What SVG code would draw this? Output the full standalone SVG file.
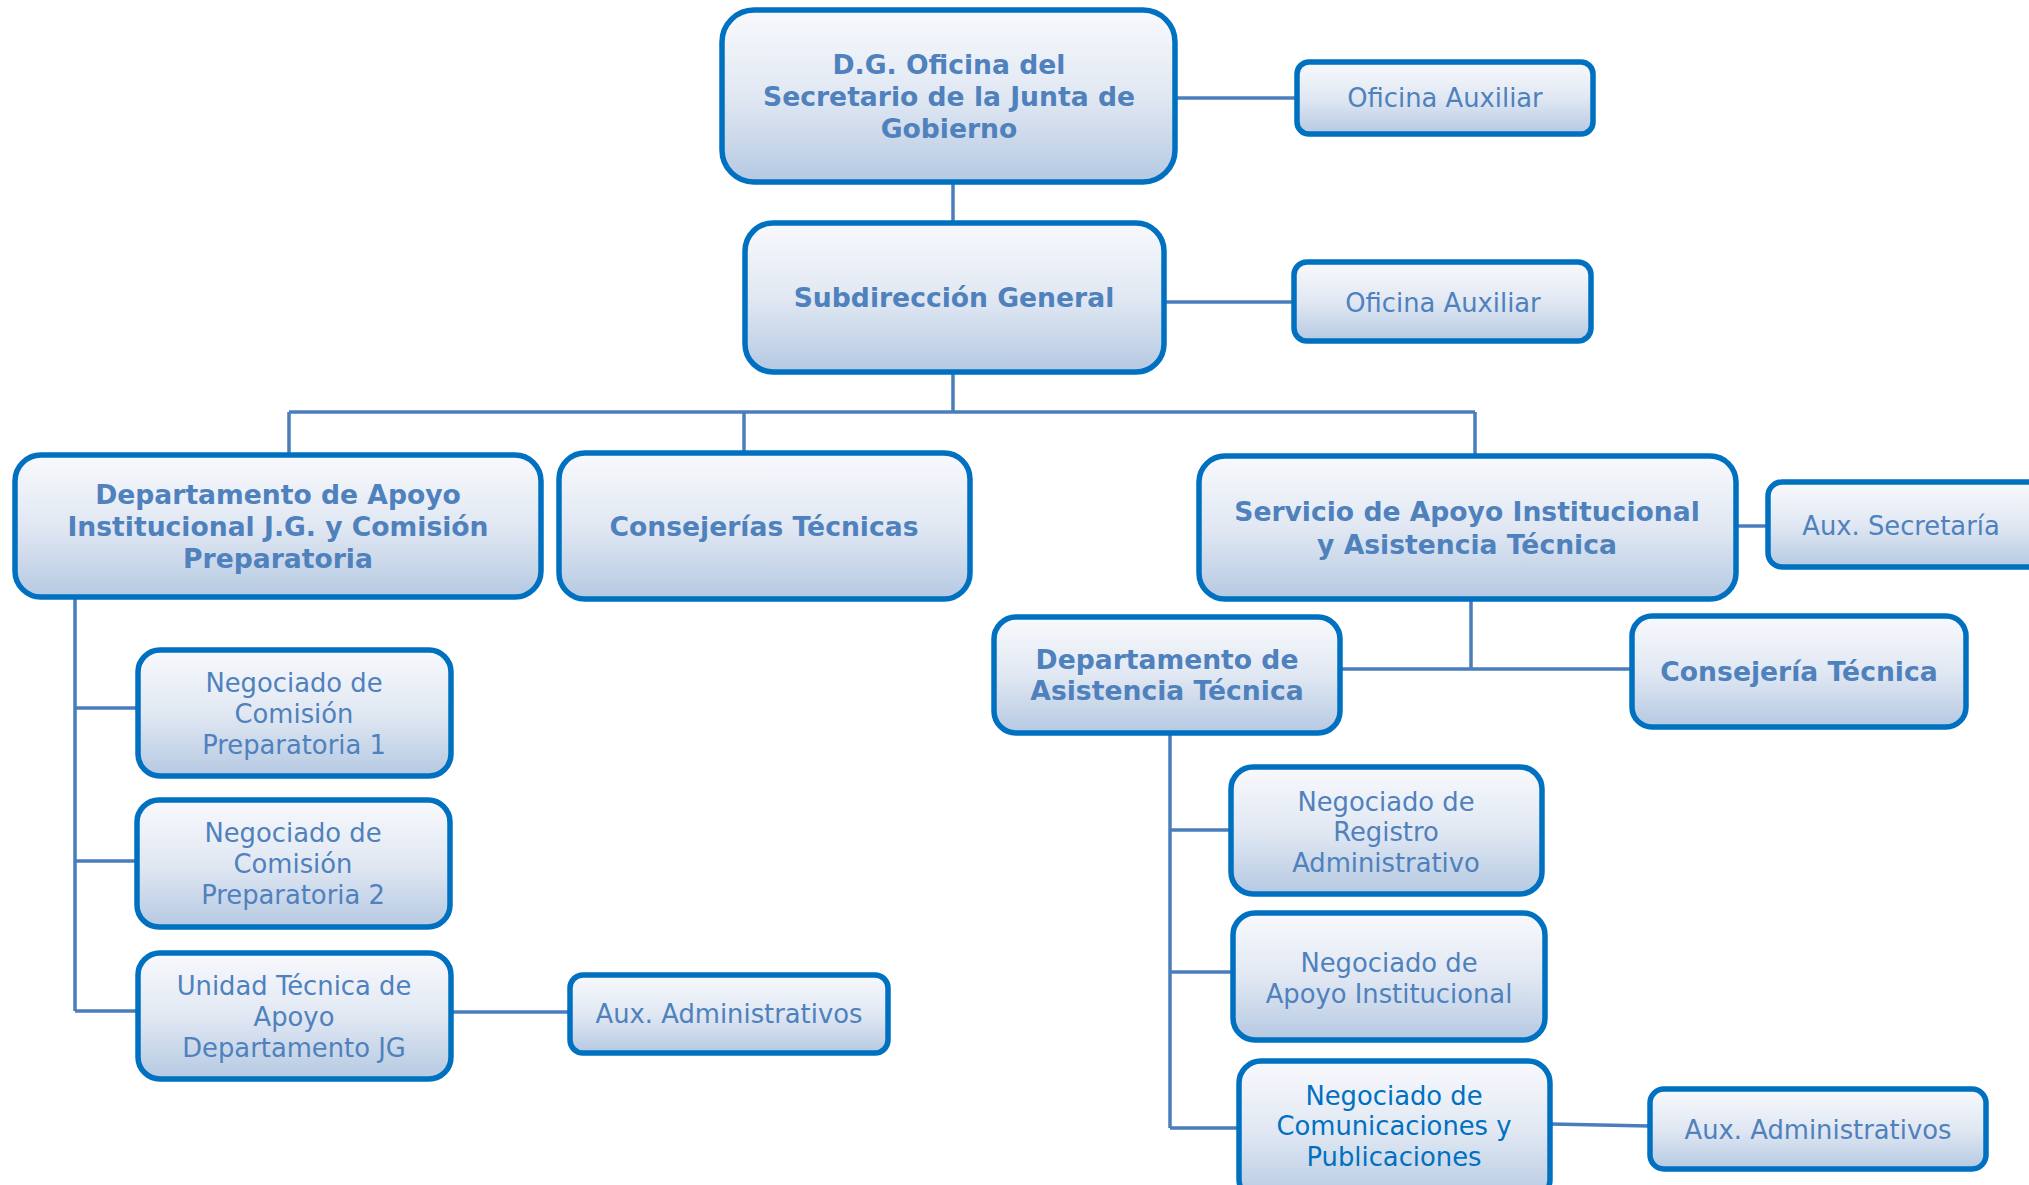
<svg xmlns="http://www.w3.org/2000/svg" width="2029" height="1185" viewBox="0 0 2029 1185">
<defs>
<linearGradient id="g" x1="0" y1="0" x2="0" y2="1">
<stop offset="0" stop-color="#f8f9fc"/>
<stop offset="0.5" stop-color="#e1e8f3"/>
<stop offset="1" stop-color="#b5c9e2"/>
</linearGradient>
<style>
.box{fill:url(#g);stroke:#0070c0;stroke-width:5.5}
.b{font-family:"DejaVu Sans","Liberation Sans",sans-serif;font-weight:bold;font-size:26.6px;fill:#4f81bd;text-anchor:middle}
.n{font-family:"DejaVu Sans","Liberation Sans",sans-serif;font-size:25.8px;fill:#4f81bd;text-anchor:middle}
.nb{fill:#0070c0}
.c{fill:none;stroke:#4a7ebb;stroke-width:3.5}
</style>
</defs>
<rect width="2029" height="1185" fill="#ffffff"/>
<g id="connectors">
<path class="c" d="M1175 98H1297"/>
<path class="c" d="M953 183V222"/>
<path class="c" d="M1164 302H1294"/>
<path class="c" d="M953 373V412M289 412H1475M289 412V453M744 412V451M1475 412V454"/>
<path class="c" d="M75 598V1011M75 708H137M75 861H136M75 1011H137"/>
<path class="c" d="M452 1012H569"/>
<path class="c" d="M1737 526H1767"/>
<path class="c" d="M1471 600V669M1341 669H1631"/>
<path class="c" d="M1170 734V1128M1170 830H1230M1170 972H1232M1170 1128H1238"/>
<path class="c" d="M1551 1124L1649 1126"/>
</g>
<g id="n-dg">
<rect class="box" x="722" y="10" width="453" height="172" rx="32"/>
<text class="b" x="949" y="74">D.G. Oficina del</text>
<text class="b" x="949" y="106">Secretario de la Junta de</text>
<text class="b" x="949" y="138">Gobierno</text>
</g>
<g id="n-aux1">
<rect class="box" x="1297" y="62" width="296" height="72" rx="12"/>
<text class="n" x="1445" y="107">Oficina Auxiliar</text>
</g>
<g id="n-sub">
<rect class="box" x="745" y="223" width="419" height="149" rx="28"/>
<text class="b" x="954" y="307">Subdirección General</text>
</g>
<g id="n-aux2">
<rect class="box" x="1294" y="262" width="297" height="79" rx="13"/>
<text class="n" x="1443" y="312">Oficina Auxiliar</text>
</g>
<g id="n-depapoyo">
<rect class="box" x="15" y="455" width="526" height="142" rx="26"/>
<text class="b" x="278" y="504">Departamento de Apoyo</text>
<text class="b" x="278" y="536">Institucional J.G. y Comisión</text>
<text class="b" x="278" y="568">Preparatoria</text>
</g>
<g id="n-consejerias">
<rect class="box" x="559" y="453" width="411" height="146" rx="26"/>
<text class="b" x="764" y="536">Consejerías Técnicas</text>
</g>
<g id="n-cp1">
<rect class="box" x="138" y="650" width="313" height="126" rx="22"/>
<text class="n" x="294" y="692">Negociado de</text>
<text class="n" x="294" y="723">Comisión</text>
<text class="n" x="294" y="754">Preparatoria 1</text>
</g>
<g id="n-cp2">
<rect class="box" x="137" y="800" width="313" height="127" rx="22"/>
<text class="n" x="293" y="842">Negociado de</text>
<text class="n" x="293" y="873">Comisión</text>
<text class="n" x="293" y="904">Preparatoria 2</text>
</g>
<g id="n-unidad">
<rect class="box" x="138" y="953" width="313" height="126" rx="22"/>
<text class="n" x="294" y="995">Unidad Técnica de</text>
<text class="n" x="294" y="1026">Apoyo</text>
<text class="n" x="294" y="1057">Departamento JG</text>
</g>
<g id="n-auxadm1">
<rect class="box" x="570" y="975" width="318" height="78" rx="13"/>
<text class="n" x="729" y="1023">Aux. Administrativos</text>
</g>
<g id="n-servicio">
<rect class="box" x="1199" y="456" width="537" height="143" rx="26"/>
<text class="b" x="1467" y="521">Servicio de Apoyo Institucional</text>
<text class="b" x="1467" y="554">y Asistencia Técnica</text>
</g>
<g id="n-auxsec">
<rect class="box" x="1768" y="482" width="280" height="85" rx="14"/>
<text class="n" x="1901" y="535">Aux. Secretaría</text>
</g>
<g id="n-depasist">
<rect class="box" x="994" y="617" width="346" height="116" rx="22"/>
<text class="b" x="1167" y="669">Departamento de</text>
<text class="b" x="1167" y="700">Asistencia Técnica</text>
</g>
<g id="n-consejeria">
<rect class="box" x="1632" y="616" width="334" height="111" rx="20"/>
<text class="b" x="1799" y="681">Consejería Técnica</text>
</g>
<g id="n-registro">
<rect class="box" x="1231" y="767" width="311" height="127" rx="22"/>
<text class="n" x="1386" y="811">Negociado de</text>
<text class="n" x="1386" y="841">Registro</text>
<text class="n" x="1386" y="872">Administrativo</text>
</g>
<g id="n-apoyoinst">
<rect class="box" x="1233" y="913" width="312" height="127" rx="22"/>
<text class="n" x="1389" y="972">Negociado de</text>
<text class="n" x="1389" y="1003">Apoyo Institucional</text>
</g>
<g id="n-comunic">
<rect class="box" x="1239" y="1061" width="311" height="140" rx="22"/>
<text class="n nb" x="1394" y="1105">Negociado de</text>
<text class="n nb" x="1394" y="1135">Comunicaciones y</text>
<text class="n nb" x="1394" y="1166">Publicaciones</text>
</g>
<g id="n-auxadm2">
<rect class="box" x="1650" y="1089" width="336" height="80" rx="14"/>
<text class="n" x="1818" y="1139">Aux. Administrativos</text>
</g>
</svg>
